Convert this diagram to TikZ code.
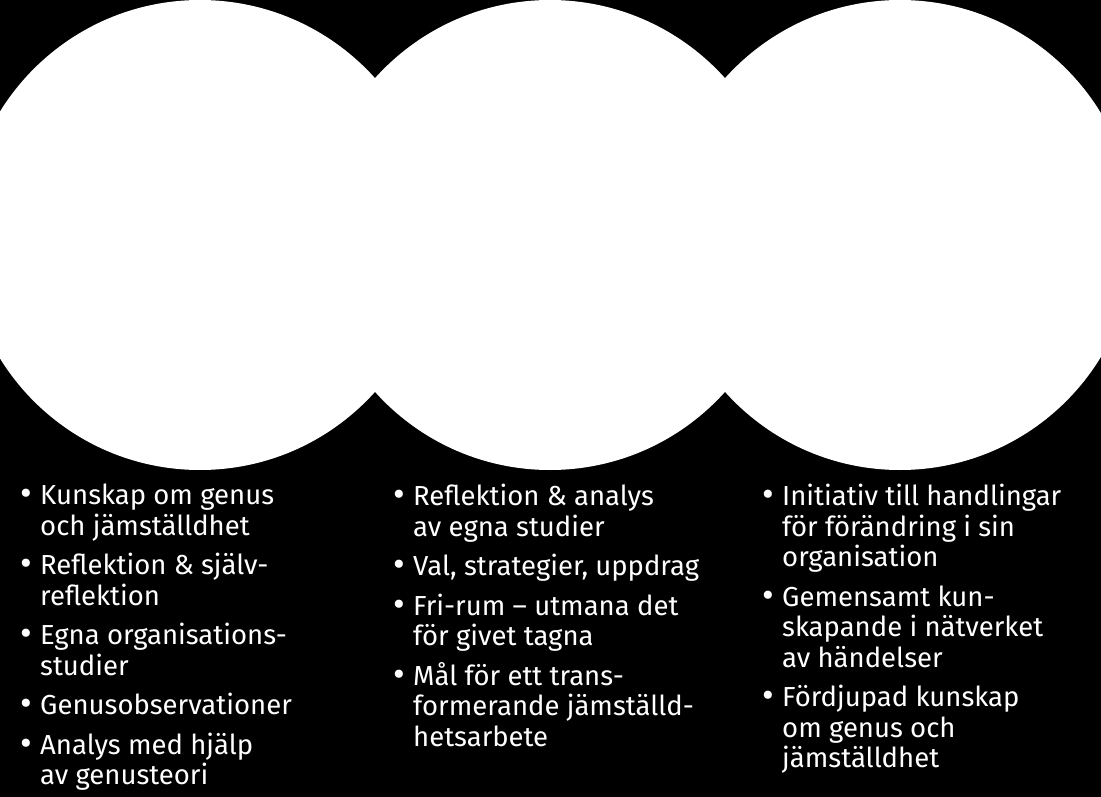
\documentclass[tikz,border=0pt]{standalone}
\usepackage{fontspec}
\setmainfont{Fira Sans}
\begin{document}
\begin{tikzpicture}[x=1pt,y=-1pt,
  col/.style={anchor=north west,text=white,align=left,inner sep=0pt,font=\fontsize{27.5}{30.5}\selectfont},
  circ/.style={fill=white}]
\fill[black] (0,0) rectangle (1101,797);
\useasboundingbox (0,0) rectangle (1101,797);
\begin{scope}
\clip (0,0) rectangle (1101,797);
\fill[circ] (200,235) circle[radius=235];
\fill[circ] (550,235) circle[radius=235];
\fill[circ] (900,235) circle[radius=235];
\end{scope}
\newcommand{\bu}{\llap{{\fontsize{36}{30}\selectfont\raisebox{-1pt}{\textbullet}}\hspace{8pt}}}
\node[col] (c1) at (40,484) {\bu Kunskap om genus\\och jämställdhet\\[9pt]
\bu Reflektion \& själv-\\reflektion\\[9pt]
\bu Egna organisations-\\studier\\[9pt]
\bu Genusobservationer\\[9pt]
\bu Analys med hjälp\\av genusteori};
\node[col] (c2) at (413,484) {\bu Reflektion \& analys\\av egna studier\\[9pt]
\bu Val, strategier, uppdrag\\[9pt]
\bu Fri-rum – utmana det\\för givet tagna\\[9pt]
\bu Mål för ett trans-\\formerande jämställd-\\hetsarbete};
\node[col] (c3) at (782,484) {\bu Initiativ till handlingar\\för förändring i sin\\organisation\\[9pt]
\bu Gemensamt kun-\\skapande i nätverket\\av händelser\\[9pt]
\bu Fördjupad kunskap\\om genus och\\jämställdhet};
\end{tikzpicture}
\end{document}
